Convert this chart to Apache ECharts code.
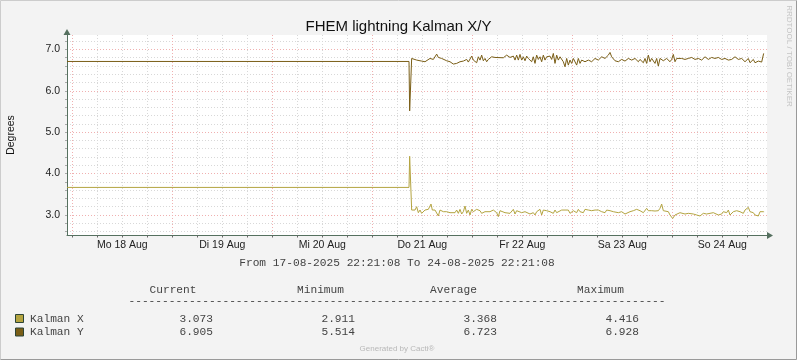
<!DOCTYPE html>
<html><head><meta charset="utf-8">
<script src="https://cdn.jsdelivr.net/npm/echarts@6/dist/echarts.min.js"></script>
<style>html,body{margin:0;padding:0;background:#f3f3f3}#c{width:797px;height:360px}</style>
</head><body><div id="c"></div>
<script>
// ---- data ----
const chartTitle = 'FHEM lightning Kalman X/Y';
const yAxisTitle = 'Degrees';
const rangeText = 'From 17-08-2025 22:21:08 To 24-08-2025 22:21:08';
const spanHours = 168;          // hours shown
const firstMidnightHour = 1.27;  // hours after the start of the first midnight
const dayLabels = ['Mo 18 Aug', 'Di 19 Aug', 'Mi 20 Aug', 'Do 21 Aug', 'Fr 22 Aug', 'Sa 23 Aug', 'So 24 Aug'];
const yMin = 2.5, yMax = 7.35;
const yLabelValues = [3, 4, 5, 6, 7];
const seriesNames = ['Kalman X', 'Kalman Y'];
const statHeaders = ['Current', 'Minimum', 'Average', 'Maximum'];
const statsX = ['3.073', '2.911', '3.368', '4.416'];
const statsY = ['6.905', '5.514', '6.723', '6.928'];
const footerText = 'Generated by Cacti\u00AE';
const sideText = 'RRDTOOL / TOBI OETIKER';

// [hours since start, degrees]
const kalmanX = [[0,3.663],[82.08,3.663],[82.24,4.416],[82.72,3.116],[83.12,3.076],[83.52,3.116],[83.92,3.197],[84.32,3.052],[84.72,3.116],[85.12,3.036],[85.52,3.076],[85.92,3.116],[86.32,3.100],[86.72,3.133],[87.12,3.181],[87.36,3.261],[87.68,3.116],[87.92,3.133],[88.32,3.116],[88.72,3.100],[89.12,2.972],[89.52,3.116],[89.92,3.133],[90.32,3.076],[90.72,3.052],[91.12,3.076],[91.92,3.052],[92.32,3.036],[93.12,3.052],[93.52,3.116],[93.92,3.036],[94.32,3.133],[94.72,3.020],[95.12,3.076],[95.52,3.213],[95.92,3.036],[96.32,3.116],[96.72,2.996],[97.12,3.133],[97.52,3.076],[97.92,3.116],[98.32,3.133],[99.12,3.100],[99.52,3.036],[100.32,3.076],[100.72,3.052],[101.52,3.076],[101.92,3.036],[102.32,3.116],[102.72,3.076],[103.12,3.052],[103.52,2.956],[103.92,3.100],[104.32,3.116],[105.12,3.052],[105.52,3.076],[106.32,3.036],[107.12,3.133],[107.52,3.020],[107.92,3.100],[108.32,3.052],[109.12,3.052],[109.52,3.036],[109.92,3.076],[110.32,3.052],[111.12,3.020],[111.52,3.036],[111.92,3.052],[112.32,2.996],[112.72,3.076],[113.12,3.116],[113.52,3.133],[113.92,2.996],[114.32,3.116],[115.12,3.100],[115.92,3.076],[116.72,3.036],[117.12,3.116],[117.52,3.052],[117.92,3.100],[118.72,3.116],[119.12,3.133],[119.52,3.116],[119.92,3.076],[120.32,3.116],[120.72,3.036],[121.12,2.996],[121.52,3.100],[121.92,3.116],[122.32,3.052],[122.72,3.133],[123.12,3.076],[123.52,3.100],[123.92,3.052],[124.32,3.133],[125.12,3.116],[125.92,3.100],[126.72,3.116],[127.12,3.100],[127.52,3.116],[127.92,3.157],[128.32,3.076],[128.72,3.100],[129.12,3.052],[129.52,3.116],[129.92,3.076],[130.32,3.100],[131.12,3.076],[131.52,3.036],[132.32,3.052],[133.12,3.076],[133.92,3.020],[134.32,3.052],[135.12,3.076],[135.92,3.100],[136.32,3.052],[136.72,3.133],[137.12,3.157],[137.52,3.100],[137.92,3.133],[138.32,3.052],[138.72,3.036],[139.12,3.157],[139.52,3.100],[139.92,3.116],[140.32,3.100],[140.72,3.076],[141.12,3.092],[141.52,3.116],[141.92,3.100],[142.32,3.157],[142.72,3.261],[143.12,3.100],[143.52,3.116],[144.32,3.076],[144.72,2.996],[145.12,2.956],[145.36,2.912],[145.92,2.996],[146.32,3.020],[147.12,3.052],[147.52,3.036],[148.32,3.020],[148.72,2.972],[149.12,3.036],[149.52,2.996],[150.32,3.020],[150.72,3.052],[151.12,2.996],[151.52,3.036],[151.92,2.972],[152.32,2.996],[152.72,3.036],[153.52,3.020],[154.32,3.036],[155.12,3.052],[155.52,3.020],[156.32,2.996],[156.72,2.972],[157.12,3.020],[157.52,3.076],[157.92,3.116],[158.32,3.052],[158.72,3.116],[159.12,2.996],[159.52,3.036],[159.92,3.076],[160.32,3.052],[160.72,3.100],[161.12,3.052],[161.52,3.076],[161.92,3.100],[162.32,3.036],[162.72,3.116],[163.12,3.133],[163.52,3.181],[163.92,3.076],[164.32,3.036],[164.72,3.052],[165.12,2.996],[165.52,3.020],[165.92,2.972],[166.32,3.076],[166.72,3.052],[167.12,3.076],[167.3,3.073]];

const kalmanY = [[0,6.71],[82.08,6.71],[82.24,5.514],[82.72,6.783],[83.12,6.743],[83.92,6.743],[84.32,6.719],[85.12,6.719],[85.52,6.759],[85.92,6.703],[86.32,6.743],[87.12,6.783],[87.92,6.759],[88.72,6.888],[89.12,6.807],[89.52,6.759],[89.92,6.783],[90.32,6.743],[91.12,6.727],[91.92,6.703],[92.72,6.647],[93.52,6.663],[94.32,6.703],[95.12,6.719],[95.92,6.759],[96.32,6.695],[97.12,6.839],[97.52,6.743],[97.92,6.783],[98.32,6.679],[98.72,6.823],[99.12,6.743],[99.52,6.863],[99.92,6.727],[100.32,6.783],[100.72,6.703],[101.12,6.759],[101.52,6.719],[101.92,6.823],[102.32,6.783],[102.72,6.807],[103.12,6.799],[104.72,6.799],[105.52,6.863],[106.32,6.807],[107.12,6.839],[107.52,6.743],[107.92,6.863],[108.32,6.743],[108.72,6.880],[109.12,6.743],[109.52,6.823],[109.92,6.727],[110.32,6.839],[110.72,6.783],[111.12,6.823],[111.52,6.703],[111.92,6.823],[112.32,6.663],[112.72,6.863],[113.12,6.759],[113.52,6.823],[113.92,6.703],[114.32,6.863],[114.72,6.743],[115.12,6.823],[115.52,6.783],[115.92,6.839],[116.32,6.759],[116.72,6.904],[117.12,6.663],[117.52,6.863],[117.92,6.743],[118.32,6.823],[119.12,6.703],[119.52,6.582],[119.92,6.783],[120.32,6.622],[120.72,6.743],[121.12,6.663],[121.52,6.783],[122.32,6.622],[122.72,6.783],[123.12,6.663],[123.52,6.743],[124.32,6.703],[125.12,6.743],[125.92,6.703],[126.72,6.783],[127.52,6.743],[128.32,6.823],[129.12,6.783],[129.92,6.863],[130.32,6.928],[130.72,6.823],[131.12,6.783],[131.52,6.727],[132.32,6.703],[133.12,6.759],[133.92,6.719],[134.72,6.783],[135.52,6.743],[136.32,6.783],[137.12,6.703],[137.52,6.759],[138.32,6.679],[138.72,6.783],[139.12,6.663],[139.52,6.863],[139.92,6.703],[140.32,6.783],[141.12,6.663],[141.52,6.783],[141.92,6.598],[142.32,6.783],[143.12,6.727],[143.92,6.783],[144.72,6.703],[145.12,6.759],[145.52,6.880],[145.92,6.703],[146.32,6.783],[146.72,6.743],[147.52,6.783],[148.32,6.759],[149.12,6.783],[149.92,6.807],[150.72,6.759],[151.52,6.783],[152.32,6.743],[153.12,6.823],[153.92,6.759],[154.72,6.807],[155.52,6.783],[156.32,6.807],[157.12,6.759],[157.92,6.783],[158.72,6.743],[159.52,6.759],[160.32,6.823],[161.12,6.759],[161.92,6.783],[162.72,6.703],[163.52,6.783],[163.92,6.679],[164.72,6.759],[165.12,6.679],[165.92,6.719],[166.72,6.695],[167.0,6.70],[167.2,6.905]];

// ---- styles ----
const colX = '#B4A440', colY = '#7A5E16';
const axisCol = '#55705f';
const majorGrid = '#f0b0b0', minorGrid = '#d8d8d8';
const sans = '"Liberation Sans", Arial, sans-serif';
const mono = '"Liberation Mono", "Courier New", monospace';
const monoFont = '11.2px ' + mono;
const monoCol = '#444';

const sixHourTicks = [];
for (let t = firstMidnightHour; t < spanHours; t += 6) sixHourTicks.push(+t.toFixed(3));
const noonTicks = dayLabels.map((_, i) => +(firstMidnightHour + 12 + 24 * i).toFixed(3));
const yMinorTicks = [];
for (let v = 2.6; v < yMax; v += 0.2) yMinorTicks.push(+v.toFixed(1));
// color cycle so that whole numbers are major (2.6,2.8,3.0,...)
const yGridColors = [minorGrid, minorGrid, majorGrid, minorGrid, minorGrid];

const chart = echarts.init(document.getElementById('c'), null, {renderer: 'canvas'});

const graphics = [
  {type: 'polyline', silent: true, shape: {points: [[0.5, 359.5], [0.5, 0.5], [796.5, 0.5]]}, style: {stroke: '#cccccc', fill: null, lineWidth: 1}},
  {type: 'polyline', silent: true, shape: {points: [[0.5, 359.5], [796.5, 359.5], [796.5, 0.5]]}, style: {stroke: '#999999', fill: null, lineWidth: 1}},
  {type: 'text', x: 11, y: 135, rotation: Math.PI / 2, style: {text: yAxisTitle, align: 'center', verticalAlign: 'middle', font: '10.5px ' + sans, fill: '#111'}},
  {type: 'text', x: 789, y: 56, rotation: -Math.PI / 2, style: {text: sideText, align: 'center', verticalAlign: 'middle', font: '8px ' + sans, fill: '#c4c4c4'}},
  {type: 'text', x: 397, y: 263, style: {text: rangeText, align: 'center', verticalAlign: 'middle', font: monoFont, fill: monoCol}},
  {type: 'text', x: 397, y: 349, style: {text: footerText, align: 'center', verticalAlign: 'middle', font: '8px ' + sans, fill: '#b8b8b8'}},
  {type: 'text', x: 397, y: 301, style: {text: '-'.repeat(80), align: 'center', verticalAlign: 'middle', font: monoFont, fill: monoCol}}
];
const headerCenters = [173, 320.5, 453.5, 600.5];
const valueRights = [213, 355, 497, 639];
statHeaders.forEach((h, i) => graphics.push({type: 'text', x: headerCenters[i], y: 290.5, style: {text: h, align: 'center', verticalAlign: 'middle', font: monoFont, fill: monoCol}}));
[[statsX, colX, 319], [statsY, colY, 332.5]].forEach(([stats, col, yy], r) => {
  graphics.push({type: 'rect', shape: {x: 15.5, y: yy - 4.5, width: 8, height: 8}, style: {fill: col, stroke: '#2c4436', lineWidth: 1}});
  graphics.push({type: 'text', x: 30, y: yy, style: {text: seriesNames[r], align: 'left', verticalAlign: 'middle', font: monoFont, fill: monoCol}});
  stats.forEach((s, i) => graphics.push({type: 'text', x: valueRights[i], y: yy, style: {text: s, align: 'right', verticalAlign: 'middle', font: monoFont, fill: monoCol}}));
});

chart.setOption({
  backgroundColor: '#f3f3f3',
  animation: false,
  title: {text: chartTitle, left: 'center', top: 14, textStyle: {fontFamily: sans, fontSize: 15, fontWeight: 'normal', color: '#111'}},
  grid: {left: 67, right: 30, top: 35, bottom: 124.5, show: true, backgroundColor: '#ffffff', borderWidth: 0, containLabel: false},
  xAxis: {
    type: 'value', min: 0, max: spanHours,
    axisLine: {show: true, onZero: false, symbol: ['none', 'triangle'], symbolSize: [7, 6], symbolOffset: [0, 3], lineStyle: {color: axisCol, width: 1}},
    axisTick: {show: true, customValues: sixHourTicks, length: 2, lineStyle: {color: '#666'}},
    axisLabel: {customValues: noonTicks, formatter: (v) => { const i = noonTicks.findIndex(n => Math.abs(n - v) < 0.01); return i >= 0 ? dayLabels[i] : ''; }, fontFamily: sans, fontSize: 10.5, color: '#222', margin: 4},
    splitLine: {show: true, lineStyle: {color: [majorGrid, minorGrid, minorGrid, minorGrid], type: [1, 2], width: 1}}
  },
  yAxis: {
    type: 'value', min: yMin, max: yMax,
    axisLine: {show: true, onZero: false, symbol: ['none', 'triangle'], symbolSize: [7, 6], symbolOffset: [0, 3], lineStyle: {color: axisCol, width: 1}},
    axisTick: {show: true, customValues: yMinorTicks, length: 2, lineStyle: {color: '#aaa'}},
    axisLabel: {customValues: yLabelValues, formatter: (v) => v.toFixed(1), fontFamily: sans, fontSize: 10.5, color: '#222', margin: 7},
    splitLine: {show: true, lineStyle: {color: yGridColors, type: [1, 2], width: 1}}
  },
  series: [
    {name: seriesNames[0], type: 'line', data: kalmanX, showSymbol: false, lineStyle: {color: colX, width: 1}, itemStyle: {color: colX}, z: 3},
    {name: seriesNames[1], type: 'line', data: kalmanY, showSymbol: false, lineStyle: {color: colY, width: 1}, itemStyle: {color: colY}, z: 3}
  ],
  graphic: graphics
});
</script></body></html>
